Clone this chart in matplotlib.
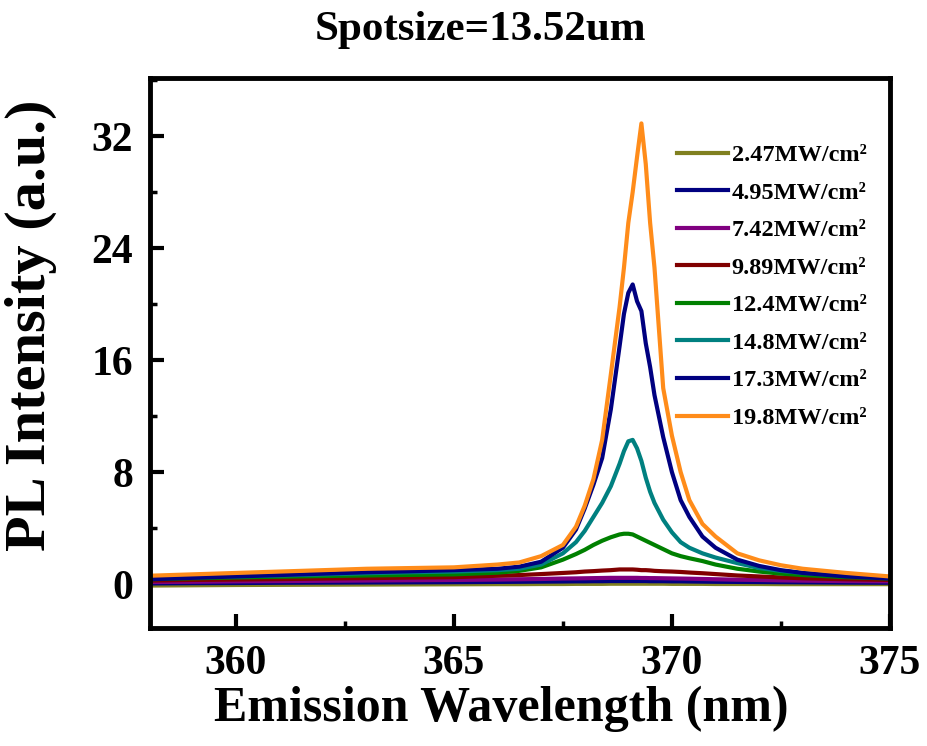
import matplotlib
matplotlib.use("Agg")
import matplotlib.pyplot as plt
from matplotlib.ticker import MultipleLocator

# Longitudes de onda (nm) donde se leen los espectros
longitud_onda = [358, 359, 360, 361, 362, 363, 364, 365,
                 366, 366.5, 367, 367.5, 367.8,
                 368.0, 368.2, 368.4, 368.6, 368.8, 368.9,
                 369.0, 369.1, 369.2, 369.3, 369.4, 369.5, 369.6, 369.8,
                 370.0, 370.2, 370.4, 370.7,
                 371.0, 371.5, 372, 372.5, 373, 374, 375]

# Intensidad PL (u.a.) para cada densidad de potencia
pl_2_47 = [-0.1, -0.08, -0.06, -0.05, -0.04, -0.03, -0.02, -0.01,
           0.0, 0.0, 0.01, 0.01, 0.02,
           0.02, 0.02, 0.02, 0.03, 0.03, 0.03,
           0.03, 0.03, 0.03, 0.03, 0.03, 0.03, 0.03, 0.03,
           0.02, 0.02, 0.02, 0.02,
           0.01, 0.01, 0.01, 0.0, 0.0, 0.0, 0.0]
pl_4_95 = [0.05, 0.07, 0.08, 0.1, 0.11, 0.12, 0.13, 0.14,
           0.16, 0.17, 0.18, 0.19, 0.2,
           0.2, 0.21, 0.21, 0.22, 0.22, 0.22,
           0.22, 0.22, 0.22, 0.22, 0.22, 0.21, 0.21, 0.21,
           0.2, 0.2, 0.19, 0.18,
           0.17, 0.16, 0.15, 0.14, 0.13, 0.11, 0.1]
pl_7_42 = [0.15, 0.17, 0.2, 0.22, 0.24, 0.26, 0.28, 0.3,
           0.33, 0.35, 0.37, 0.4, 0.41,
           0.42, 0.43, 0.44, 0.45, 0.45, 0.45,
           0.45, 0.45, 0.45, 0.44, 0.44, 0.43, 0.43, 0.42,
           0.41, 0.4, 0.39, 0.37,
           0.35, 0.32, 0.3, 0.27, 0.25, 0.22, 0.2]
pl_9_89 = [0.25, 0.3, 0.33, 0.36, 0.4, 0.43, 0.47, 0.5,
           0.6, 0.65, 0.72, 0.8, 0.85,
           0.9, 0.93, 0.97, 1.0, 1.05, 1.05,
           1.05, 1.05, 1.03, 1.0, 1.0, 0.98, 0.95, 0.92,
           0.9, 0.87, 0.83, 0.78,
           0.72, 0.62, 0.55, 0.48, 0.42, 0.35, 0.3]
pl_12_4 = [0.35, 0.42, 0.48, 0.53, 0.58, 0.62, 0.66, 0.7,
           0.82, 0.95, 1.2, 1.75, 2.15,
           2.45, 2.8, 3.1, 3.35, 3.55, 3.6,
           3.6, 3.55, 3.4, 3.25, 3.1, 2.95, 2.8, 2.5,
           2.2, 2.0, 1.85, 1.65,
           1.4, 1.1, 0.9, 0.75, 0.65, 0.5, 0.4]
pl_14_8 = [0.4, 0.5, 0.55, 0.62, 0.7, 0.78, 0.85, 0.9,
           1.0, 1.1, 1.4, 2.2, 3.0,
           3.8, 4.8, 5.8, 7.0, 8.6, 9.5,
           10.2, 10.3, 9.7, 8.8, 7.6, 6.6, 5.8, 4.6,
           3.7, 3.0, 2.6, 2.2,
           1.9, 1.5, 1.15, 0.95, 0.8, 0.6, 0.45]
pl_17_3 = [0.35, 0.45, 0.55, 0.65, 0.75, 0.85, 0.92, 1.0,
           1.1, 1.25, 1.6, 2.6, 3.9,
           5.4, 7.1, 9.0, 12.5, 17.0, 19.3,
           20.8, 21.4, 20.2, 19.5, 17.2, 15.5, 13.5, 10.5,
           8.0, 6.0, 4.8, 3.4,
           2.6, 1.75, 1.3, 1.0, 0.8, 0.55, 0.4]
pl_19_8 = [0.6, 0.7, 0.8, 0.9, 1.0, 1.1, 1.15, 1.2,
           1.4, 1.55, 2.0, 2.8, 4.1,
           5.6, 7.5, 10.3, 15.0, 19.8, 22.6,
           25.8, 28.0, 30.5, 32.9, 30.0, 25.8, 22.6, 14.0,
           10.6, 8.0, 6.0, 4.3,
           3.4, 2.2, 1.7, 1.35, 1.1, 0.8, 0.55]

etiquetas = ["2.47MW/cm²", "4.95MW/cm²", "7.42MW/cm²", "9.89MW/cm²",
             "12.4MW/cm²", "14.8MW/cm²", "17.3MW/cm²", "19.8MW/cm²"]
series = [pl_2_47, pl_4_95, pl_7_42, pl_9_89, pl_12_4, pl_14_8, pl_17_3, pl_19_8]
colores = ["#808020", "#000080", "#800080", "#800000",
           "#008000", "#008080", "#000080", "#FF8C1A"]

plt.rcParams["font.family"] = ["Liberation Serif", "DejaVu Serif"]
plt.rcParams["font.weight"] = "bold"

fig = plt.figure(figsize=(9.28, 7.46), dpi=100)
ax = fig.add_axes([0.1616, 0.158, 0.7974, 0.7374])

for valores, etiqueta, color in zip(series, etiquetas, colores):
    ax.plot(longitud_onda, valores, color=color, linewidth=3, label=etiqueta)

ax.set_xlim(358.03, 375)
ax.set_ylim(-3.14, 36.14)
ax.xaxis.set_major_locator(MultipleLocator(5))
ax.xaxis.set_minor_locator(MultipleLocator(2.5))
ax.yaxis.set_major_locator(MultipleLocator(8))
ax.yaxis.set_minor_locator(MultipleLocator(4))

ax.tick_params(which="major", direction="in", length=10, width=3,
               labelsize=30, pad=12, top=False, right=False)
ax.tick_params(which="minor", direction="in", length=5, width=2.5,
               top=False, right=False)
for spine in ax.spines.values():
    spine.set_linewidth(3.5)

ax.set_xlabel("Emission Wavelength (nm)", fontsize=36, fontweight="bold")
ax.xaxis.set_label_coords(0.475, -0.105)
ax.set_ylabel("PL Intensity (a.u.)", fontsize=42, fontweight="bold")
ax.yaxis.set_label_coords(-0.125, 0.55)

fig.text(0.518, 0.96, "Spotsize=13.52um", fontsize=31, fontweight="bold",
         ha="center", va="center")

ley = ax.legend(loc="upper left", bbox_to_anchor=(0.712, 0.88), frameon=False,
                fontsize=17.5, handlelength=2.1, handletextpad=0.15,
                labelspacing=0.64, borderaxespad=0, borderpad=0)
for linea in ley.get_lines():
    linea.set_linewidth(3)

plt.savefig("out.png", dpi=100)
